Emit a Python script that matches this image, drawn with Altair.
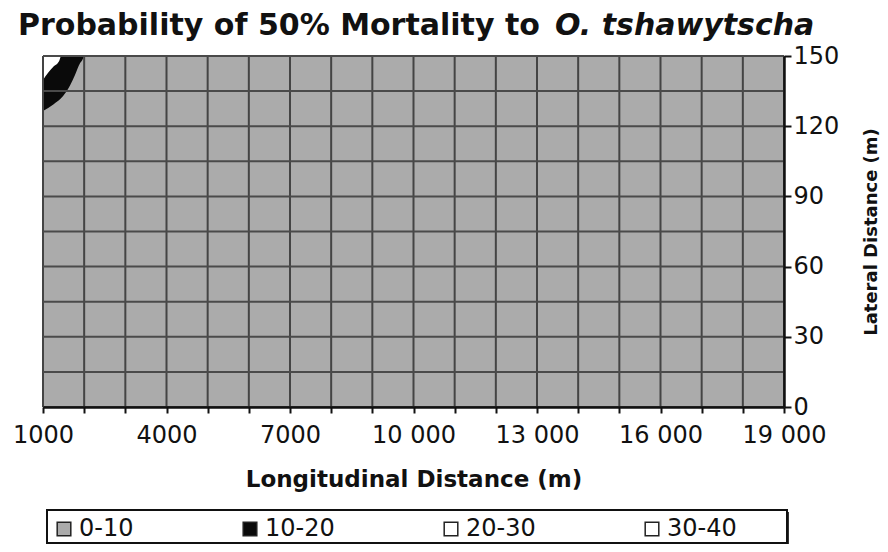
import altair as alt
import pandas as pd

# ---- data ----
categories = ["0-10", "10-20", "20-30", "30-40"]
colors = ["#ababab", "#0a0a0a", "#ffffff", "#ffffff"]

x_range = [1000, 19000]
y_range = [0, 150]

# lower boundary of the 10-20 contour band (top-left corner)
black_x = [1000, 1251, 1493, 1656, 1777, 1899, 1964, 1995]
black_y = [126.5, 129.3, 133.0, 137.4, 141.9, 146.9, 148.6, 150]
# lower boundary of the 20-30 contour band (very corner)
white_x = [1000, 1129, 1251, 1396, 1430]
white_y = [139.7, 142.9, 145.4, 148.0, 150]

grid_x = list(range(1000, 19001, 1000))
grid_y = list(range(0, 151, 15))
x_tick_values = [1000, 4000, 7000, 10000, 13000, 16000, 19000]
x_tick_labels = ["1000", "4000", "7000", "10 000", "13 000", "16 000", "19 000"]
y_tick_values = [0, 30, 60, 90, 120, 150]

title_main = "Probability of 50% Mortality to"
title_species = "O. tshawytscha"
x_title = "Longitudinal Distance (m)"
y_title = "Lateral Distance (m)"

FONT = "DejaVu Sans"
INK = "#111111"

# ---- tables ----
bg_df = pd.DataFrame({"x": [x_range[0]], "x2": [x_range[1]], "y": [y_range[0]],
                      "y2": [y_range[1]], "cat": [categories[0]]})
black_df = pd.DataFrame({"x": black_x, "y": black_y, "y2": [y_range[1]] * len(black_x),
                         "cat": [categories[1]] * len(black_x)})
white_df = pd.DataFrame({"x": white_x, "y": white_y, "y2": [y_range[1]] * len(white_x),
                         "cat": [categories[2]] * len(white_x)})
gx_df = pd.DataFrame({"x": grid_x})
gy_df = pd.DataFrame({"y": grid_y})

x_label_expr = " : ".join(f"datum.value == {v} ? '{l}'"
                          for v, l in zip(x_tick_values, x_tick_labels)) + " : ''"

xscale = alt.Scale(domain=x_range, nice=False, zero=False)
yscale = alt.Scale(domain=y_range, nice=False)

color = alt.Color(
    "cat:N",
    scale=alt.Scale(domain=categories, range=colors),
    legend=alt.Legend(
        title=None, orient="none", legendX=9, legendY=461, direction="horizontal",
        columns=4, symbolType="square", symbolSize=185, symbolStrokeColor="#222222",
        symbolStrokeWidth=1.5, symbolOpacity=1, labelFont=FONT, labelFontSize=24,
        labelColor=INK, labelOffset=3, columnPadding=104, labelLimit=300, padding=0,
    ),
)

bg = alt.Chart(bg_df).mark_rect().encode(
    x=alt.X("x:Q", scale=xscale, axis=alt.Axis(
        values=grid_x, labelExpr=x_label_expr, title=x_title, grid=False,
        tickSize=6, tickWidth=2, tickColor=INK, domainColor=INK, domainWidth=2.5,
        labelFont=FONT, labelFontSize=24, labelColor=INK, labelPadding=10,
        labelFlush=False, labelOverlap=False, titleFont=FONT, titleFontSize=23,
        titleFontWeight="bold", titleColor=INK, titleY=79, titleBaseline="alphabetic",
        zindex=1)),
    x2="x2:Q",
    y=alt.Y("y:Q", scale=yscale, axis=alt.Axis(
        orient="right", values=y_tick_values, title=y_title, grid=False,
        tickSize=7, tickWidth=2, tickColor=INK, domainColor=INK, domainWidth=2.5,
        labelFont=FONT, labelFontSize=24, labelColor=INK, labelPadding=2,
        labelFlush=False, labelOverlap=False, titleFont=FONT, titleFontSize=18,
        titleFontWeight="bold", titleColor=INK, titleAngle=270, titleX=92,
        titleY=175.5, titleAlign="center", titleBaseline="alphabetic", zindex=1)),
    y2="y2:Q",
    color=color,
)

black = alt.Chart(black_df).mark_area(interpolate="monotone").encode(
    x=alt.X("x:Q", scale=xscale), y=alt.Y("y:Q", scale=yscale), y2="y2:Q", color="cat:N")
white = alt.Chart(white_df).mark_area(interpolate="monotone").encode(
    x=alt.X("x:Q", scale=xscale), y=alt.Y("y:Q", scale=yscale), y2="y2:Q", color="cat:N")

vgrid = alt.Chart(gx_df).mark_rule(color="#444444", strokeWidth=2).encode(
    x=alt.X("x:Q", scale=xscale))
hgrid = alt.Chart(gy_df).mark_rule(color="#4a4a4a", strokeWidth=2).encode(
    y=alt.Y("y:Q", scale=yscale))

t1 = alt.Chart(pd.DataFrame({"t": [title_main]})).mark_text(
    align="left", baseline="alphabetic", font=FONT, fontSize=30, fontWeight="bold",
    color=INK).encode(x=alt.value(-25), y=alt.value(-21), text="t:N")
t2 = alt.Chart(pd.DataFrame({"t": [title_species]})).mark_text(
    align="left", baseline="alphabetic", font=FONT, fontSize=30, fontWeight="bold",
    fontStyle="italic", color=INK).encode(x=alt.value(512), y=alt.value(-21), text="t:N")

one = pd.DataFrame({"k": [0]})
shadow = alt.Chart(one).mark_rect(fill="#333333").encode(
    x=alt.value(6), x2=alt.value(746), y=alt.value(456), y2=alt.value(490))
frame = alt.Chart(one).mark_rect(fill="white", stroke="#111111", strokeWidth=2).encode(
    x=alt.value(4), x2=alt.value(744), y=alt.value(454), y2=alt.value(487))

chart = alt.layer(bg, black, white, vgrid, hgrid, t1, t2, shadow, frame).properties(
    width=741, height=351,
    padding={"left": 35, "top": 48, "right": 96, "bottom": 137},
    autosize=alt.AutoSizeParams(type="none"),
).configure_view(stroke=None).configure(background="white")

chart.save("out.html", embed_options={"renderer": "svg", "actions": False})
